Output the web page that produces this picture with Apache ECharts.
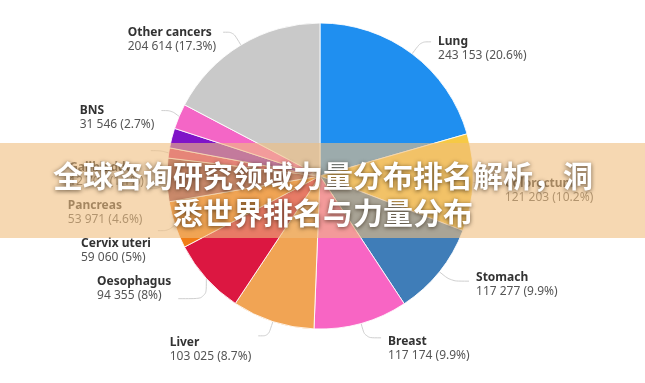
<!DOCTYPE html>
<html>
<head>
<meta charset="utf-8">
<script src="https://cdn.jsdelivr.net/npm/echarts@6/dist/echarts.min.js"></script>
<style>
html,body{margin:0;padding:0;background:#fff;}
#c{width:645px;height:383px;}
</style>
</head>
<body>
<div id="c"></div>
<script>
// Data (clockwise from 12 o'clock)
const categories = ['Lung','Colorectum','Stomach','Breast','Liver','Oesophagus','Cervix uteri','Pancreas','Gallbladder','Leukaemia','BNS','Other cancers'];
const values = [243153,121203,117277,117174,103025,94355,59060,53971,12700,24700,31546,204614];
const colors = ['#1f8ff0','#f6c945','#3f7db8','#f865c4','#f1a454','#dc1741','#f07d16','#8e3a4c','#d8306e','#7f14c8','#f466c6','#c9c9c9'];
const hiddenLabels = ['Leukaemia'];
const bannerTitle = '全球咨询研究领域力量分布排名解析，洞\n悉世界排名与力量分布';

// label styling tweaks (text padding / connector length), not data
const labelStyleTweaks = {
  'Gallbladder': {padding:[48,0,0,0]},
  'Pancreas': {padding:[48,0,0,0]},
  'Cervix uteri': {padding:[40,0,0,0]},
  'Oesophagus': {padding:[0,0,20,0], length2:32},
  'Liver': {padding:[28,0,0,0]},
  'Breast': {padding:[22,0,0,0], length2:16},
  'Stomach': {padding:[6,0,0,0], length2:18}
};

const total = values.reduce((a,b)=>a+b,0);
function fmtNum(v){ return String(v).replace(/\B(?=(\d{3})+(?!\d))/g,' '); }
function fmtPct(v){ return String(Math.round(v/total*1000)/10); }

const chart = echarts.init(document.getElementById('c'), null, {renderer:'canvas'});
const data = categories.map((n,i)=>{
  const item = {name:n, value:values[i], itemStyle:{color:colors[i]}};
  if (hiddenLabels.includes(n)) { item.label={show:false}; item.labelLine={show:false}; }
  const t = labelStyleTweaks[n];
  if (t) {
    if (t.padding) item.label = {padding:t.padding};
    if (t.length2) item.labelLine = {length2:t.length2};
  }
  return item;
});
chart.setOption({
  animation:false,
  backgroundColor:'#fff',
  series:[{
    type:'pie',
    center:[320,176],
    radius:[0,153],
    startAngle:90,
    clockwise:true,
    avoidLabelOverlap:true,
    itemStyle:{borderColor:'rgba(255,255,255,0.85)',borderWidth:1},
    label:{
      show:true,
      position:'outside',
      distanceToLabelLine:7,
      padding:[14,0,0,0],
      minMargin:12,
      formatter:p=>'{n|'+p.name+'}\n{v|'+fmtNum(p.value)+' ('+fmtPct(p.value)+'%)}',
      rich:{
        n:{fontFamily:'Noto Sans',fontWeight:'bold',fontSize:12,color:'#333',lineHeight:14,align:'left'},
        v:{fontFamily:'Noto Sans',fontSize:12,color:'#555',lineHeight:14,align:'left'}
      }
    },
    labelLine:{show:true,length:15,length2:10,smooth:true,lineStyle:{color:'#cfcfcf',width:1}},
    data:data
  }],
  graphic:[
    {type:'rect',z:100,shape:{x:0,y:143,width:645,height:95},style:{fill:'rgba(240,190,127,0.6)'}},
    {type:'text',z:101,x:323,y:194,style:{
      text:bannerTitle,
      font:'bold 30px "Noto Sans CJK SC"',
      fill:'#fff',align:'center',verticalAlign:'middle',lineHeight:37,
      textShadowColor:'rgba(40,25,10,0.7)',textShadowBlur:4,textShadowOffsetX:0,textShadowOffsetY:1
    }}
  ]
});
</script>
</body>
</html>
